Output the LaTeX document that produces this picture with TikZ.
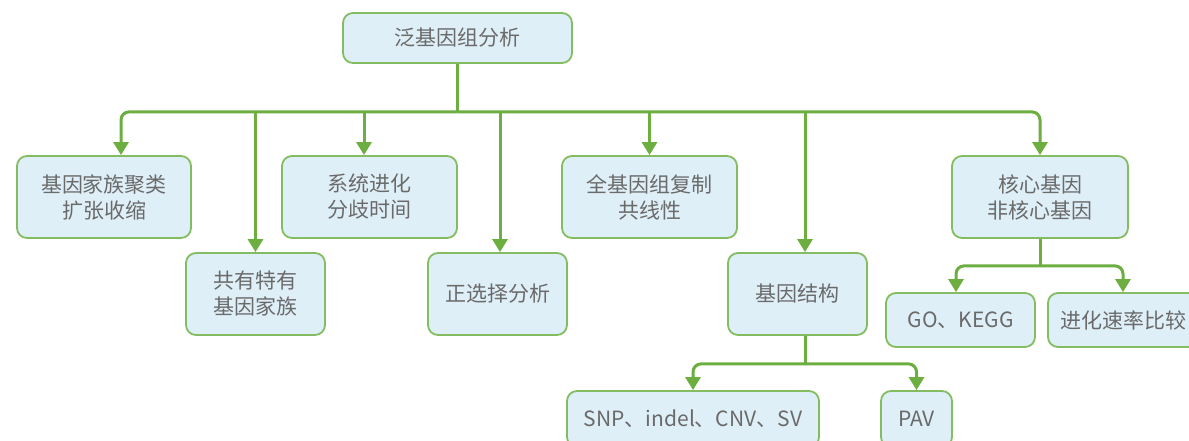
\documentclass[tikz,border=0pt]{standalone}
\usepackage{fontspec}
\newfontfamily\cjk{Noto Sans CJK SC}
\usetikzlibrary{arrows.meta}
\definecolor{boxfill}{HTML}{DFEFF8}
\definecolor{boxline}{HTML}{84BC62}
\definecolor{conncol}{HTML}{6CAE40}
\definecolor{txt}{HTML}{6A6A6A}
\begin{document}
\begin{tikzpicture}[x=1pt,y=-1pt,
  box/.style={draw=boxline, line width=1.8pt, fill=boxfill, rounded corners=10pt, align=center, text=txt, font=\cjk\fontsize{21}{26}\selectfont, inner sep=0pt},
  conn/.style={draw=conncol, line width=3pt},
  arr/.style={conn, -{Triangle[width=15pt,length=13pt]}},
  elbow/.style={rounded corners=8pt}
]
\useasboundingbox (0,0) rectangle (1189,441);
\node[box, minimum width=229pt, minimum height=50pt] (root) at (457.5,38) {泛基因组分析};
\node[box, minimum width=174pt, minimum height=82pt] (A) at (104,197) {基因家族聚类\\扩张收缩};
\node[box, minimum width=139pt, minimum height=82pt] (B) at (255.5,294) {共有特有\\基因家族};
\node[box, minimum width=175pt, minimum height=82pt] (C) at (369.5,197) {系统进化\\分歧时间};
\node[box, minimum width=139pt, minimum height=82pt] (D) at (497.5,294) {正选择分析};
\node[box, minimum width=175pt, minimum height=82pt] (E) at (649.5,197) {全基因组复制\\共线性};
\node[box, minimum width=139pt, minimum height=82pt] (F) at (797.5,294) {基因结构};
\node[box, minimum width=176pt, minimum height=82pt] (G) at (1040,197) {核心基因\\非核心基因};
\node[box, minimum width=149pt, minimum height=54pt] (GO) at (960.5,320) {GO、KEGG};
\node[box, minimum width=150pt, minimum height=54pt] (R) at (1123,320) {进化速率比较};
\node[box, minimum width=252pt, minimum height=56pt] (SNP) at (693,419) {SNP、indel、CNV、SV};
\node[box, minimum width=71pt, minimum height=56pt] (PAV) at (916.5,419) {PAV};

\coordinate (bus) at ([yshift=-48pt]root.south);
\coordinate (aTop) at ([xshift=17pt]A.north);
\coordinate (cTop) at ([xshift=-5.5pt]C.north);
\coordinate (dTop) at ([xshift=2.5pt]D.north);
\coordinate (fTop) at ([xshift=7.5pt]F.north);
\coordinate (fBot) at ([xshift=7.5pt]F.south);
\coordinate (fbus) at ([yshift=-28pt]fBot);
\coordinate (gbus) at ([yshift=-27pt]G.south);
\coordinate (goTop) at ([xshift=-4.5pt]GO.north);

\draw[conn] (root.south) -- (bus);
\draw[arr, elbow] (bus) -| (aTop);
\draw[arr, elbow] (bus) -| (G.north);
\draw[arr] (bus -| B.north) -- (B.north);
\draw[arr] (bus -| cTop) -- (cTop);
\draw[arr] (bus -| dTop) -- (dTop);
\draw[arr] (bus -| E.north) -- (E.north);
\draw[arr] (bus -| fTop) -- (fTop);

\draw[conn] (fBot) -- (fbus);
\draw[arr, elbow] (fbus) -| (SNP.north);
\draw[arr, elbow] (fbus) -| (PAV.north);

\draw[conn] (G.south) -- (gbus);
\draw[arr, elbow] (gbus) -| (goTop);
\draw[arr, elbow] (gbus) -| (R.north);
\end{tikzpicture}
\end{document}
